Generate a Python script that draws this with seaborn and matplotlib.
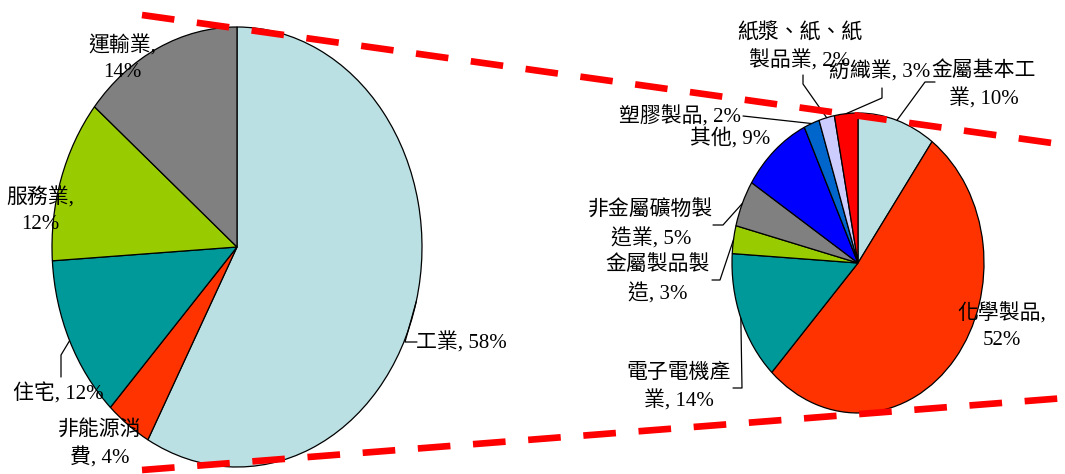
import matplotlib
matplotlib.use('Agg')
import matplotlib.pyplot as plt
import numpy as np
import seaborn as sns

# dados: participação no consumo de energia
SETORES = ['工業', '非能源消\n費', '住宅', '服務業', '運輸業']
SETORES_PCT = [58, 4, 12, 12, 14]
SETORES_SEP = [' ', ' ', ' ', '\n', '\n']
SETORES_CORES = ['#BBE0E3', '#FF3300', '#009999', '#99CC00', '#808080']

INDUSTRIAS = ['金屬基本工\n業', '化學製品', '電子電機產\n業', '金屬製品製\n造', '非金屬礦物製\n造業',
              '其他', '塑膠製品', '紙漿、紙、紙\n製品業', '紡織業']
INDUSTRIAS_PCT = [10, 52, 14, 3, 5, 9, 2, 2, 3]
INDUSTRIAS_SEP = [' ', '\n', ' ', ' ', ' ', ' ', ' ', ' ', ' ']
INDUSTRIAS_CORES = ['#BBE0E3', '#FF3300', '#009999', '#99CC00', '#808080',
                    '#0000FF', '#0066CC', '#CCCCFF', '#FF0000']

W, H = 1065, 474

# layout (pixels): centro e raios de cada pizza
PIZZA_ESQ = (237, 247, 185, 220)
PIZZA_DIR = (858, 263, 126, 150)

# posição dos rótulos e cotovelos das linhas guia (pixels)
ROTULOS_ESQ = [
    ((461, 343), [(417, 342), (405, 342)]),
    ((100, 444), None),
    ((58, 394), [(61, 377), (61, 355)]),
    ((40, 211), None),
    ((122, 59), None),
]
ROTULOS_DIR = [
    ((984, 85), [(935, 82), (925, 82)]),
    ((1002, 327), None),
    ((679, 388), [(733, 388), (742, 388)]),
    ((658, 280), [(712, 280), (720, 280)]),
    ((651, 225), [(713, 225), (723, 225)]),
    ((730, 138), None),
    ((680, 117), [(743, 116)]),
    ((800, 47), [(803, 75), (803, 84)]),
    ((880, 72), [(882, 88), (882, 98)]),
]

LINHAS_TRACEJADAS = [((142, 15), (1052, 143)), ((142, 470), (1065, 398))]

sns.set_theme(style='white')
plt.rcParams['font.family'] = ['Liberation Serif', 'Noto Sans CJK TC']


def desenhar_pizza(fig, sobre, pizza, valores, cores):
    cx, cy, rx, ry = pizza
    m = 1.03
    ax = fig.add_axes([(cx - rx * m) / W, (H - cy - ry * m) / H, 2 * rx * m / W, 2 * ry * m / H])
    wedges, _ = ax.pie(
        valores,
        colors=cores,
        startangle=90,
        counterclock=False,
        wedgeprops=dict(edgecolor='black', linewidth=0.9),
    )
    ax.set_aspect('auto')
    ax.set_xlim(-m, m)
    ax.set_ylim(-m, m)
    ax.axis('off')

    # ponto médio da borda de cada fatia em pixels da figura
    pontos = []
    for w in wedges:
        ang = np.deg2rad((w.theta1 + w.theta2) / 2)
        disp = ax.transData.transform((np.cos(ang), np.sin(ang)))
        pontos.append(sobre.transData.inverted().transform(disp))
    return pontos


def rotular(sobre, pontos, nomes, pcts, seps, rotulos):
    for ponto, nome, pct, sep, (pos, cotovelo) in zip(pontos, nomes, pcts, seps, rotulos):
        sobre.text(pos[0], pos[1], f'{nome},{sep}{pct}%', ha='center', va='center',
                   multialignment='center', fontsize=15, linespacing=1.45, color='black')
        if cotovelo:
            xs = [p[0] for p in cotovelo] + [ponto[0]]
            ys = [p[1] for p in cotovelo] + [ponto[1]]
            sobre.plot(xs, ys, color='black', lw=0.9)


def main():
    fig = plt.figure(figsize=(W / 100, H / 100), dpi=100)
    sobre = fig.add_axes([0, 0, 1, 1], zorder=5)
    sobre.set_xlim(0, W)
    sobre.set_ylim(H, 0)
    sobre.axis('off')
    sobre.patch.set_alpha(0)

    pontos_esq = desenhar_pizza(fig, sobre, PIZZA_ESQ, SETORES_PCT, SETORES_CORES)
    pontos_dir = desenhar_pizza(fig, sobre, PIZZA_DIR, INDUSTRIAS_PCT, INDUSTRIAS_CORES)

    rotular(sobre, pontos_esq, SETORES, SETORES_PCT, SETORES_SEP, ROTULOS_ESQ)
    rotular(sobre, pontos_dir, INDUSTRIAS, INDUSTRIAS_PCT, INDUSTRIAS_SEP, ROTULOS_DIR)

    for (x0, y0), (x1, y1) in LINHAS_TRACEJADAS:
        sobre.plot([x0, x1], [y0, y1], color='#FF0000', lw=4.8,
                   linestyle=(0, (4.9, 3.4)), solid_capstyle='butt', dash_capstyle='butt')

    fig.savefig('out.png', dpi=100)
    plt.close(fig)


if __name__ == '__main__':
    main()
